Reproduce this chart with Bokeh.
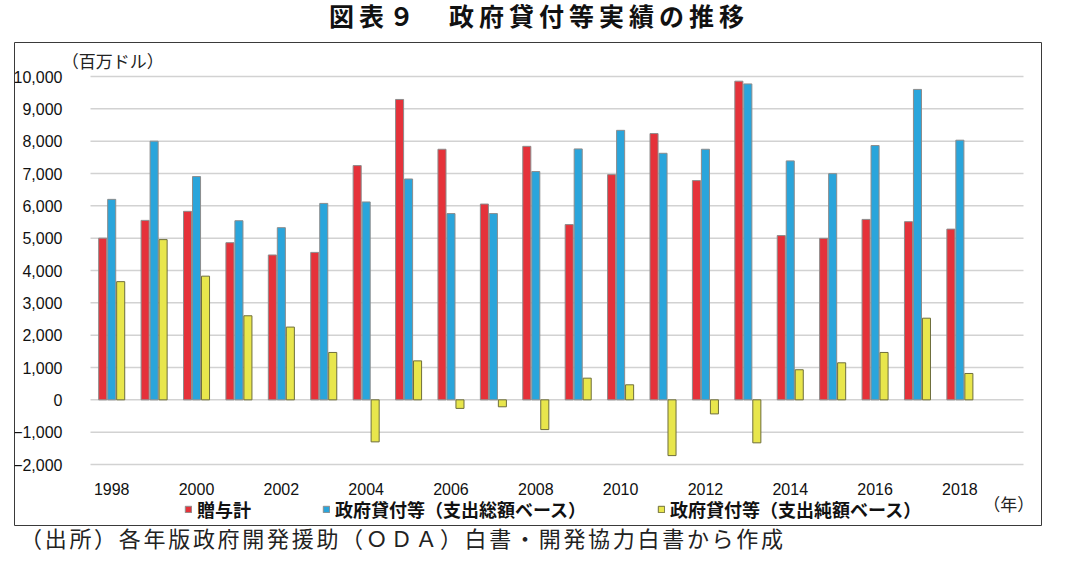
from bokeh.plotting import figure
from bokeh.models import (ColumnDataSource, Range1d, FixedTicker, NumeralTickFormatter,
                          Legend, LegendItem, Label, Div, Spacer)
from bokeh.layouts import column, row
from bokeh.transform import dodge
from bokeh.embed import file_html
from bokeh.resources import INLINE

# ---- data (百万ドル) ----
years = list(range(1998, 2019))
grants = [5000, 5550, 5830, 4860, 4480, 4560, 7245, 9290, 7750, 6055, 7840,
          5420, 6965, 8235, 6780, 9855, 5080, 4995, 5580, 5510, 5280]
loans_gross = [6200, 8000, 6905, 5540, 5325, 6075, 6120, 6830, 5760, 5760, 7060,
               7760, 8335, 7625, 7750, 9770, 7390, 6995, 7865, 9600, 8030]
loans_net = [3655, 4955, 3825, 2600, 2250, 1465, -1300, 1205, -265, -215, -920,
             670, 465, -1725, -435, -1330, 930, 1145, 1465, 2525, 815]
series_names = ["贈与計", "政府貸付等（支出総額ベース）", "政府貸付等（支出純額ベース）"]
tick_years = list(range(1998, 2019, 2))
y_ticks = list(range(-2000, 10001, 1000))

title_text = "図表９　政府貸付等実績の推移"
source_text = "（出所）各年版政府開発援助（ＯＤＡ）白書・開発協力白書から作成"
unit_text = "（百万ドル）"
year_text = "（年）"

colors = ["#E5323A", "#2AA5DB", "#E8E64C"]
JP = "Noto Sans CJK JP"
LAT = "Liberation Sans"

# ---- layout geometry (pixels inside the boxed figure) ----
W, H = 1028, 484
gx0, gx1 = 76, 1009        # horizontal extent of the plotting grid
gy_top, gy_bot = 34, 422   # pixel rows of 10000 and -2000
xs_lo, xs_hi = 1997.5, 2019.5
ppx = (xs_hi - xs_lo) / (gx1 - gx0)
ppy = 12000 / (gy_bot - gy_top)
x_range = Range1d(xs_lo - gx0 * ppx, xs_hi + (W - gx1) * ppx)
y_range = Range1d(-2000 - (H - gy_bot) * ppy, 10000 + gy_top * ppy)

src = ColumnDataSource(dict(year=years, grants=grants, gross=loans_gross, net=loans_net))

p = figure(width=W, height=H, output_backend="svg", toolbar_location=None,
           x_range=x_range, y_range=y_range, min_border=0,
           outline_line_color="#3a3a3a", outline_line_width=1)

# grid lines restricted to the plotting area
p.xgrid.grid_line_color = None
p.ygrid.grid_line_color = None
p.segment(x0=[xs_lo] * len(y_ticks), x1=[xs_hi] * len(y_ticks), y0=y_ticks, y1=y_ticks,
          line_color="#d2d2d2", line_width=1.5)

bw = 0.19
off = 0.212
r1 = p.vbar(x=dodge("year", -off, range=p.x_range), top="grants", width=bw, source=src,
            fill_color=colors[0], line_color="#8c8c8c", line_width=1)
r2 = p.vbar(x=dodge("year", 0, range=p.x_range), top="gross", width=bw, source=src,
            fill_color=colors[1], line_color="#8c8c8c", line_width=1)
r3 = p.vbar(x=dodge("year", off, range=p.x_range), top="net", width=bw, source=src,
            fill_color=colors[2], line_color="#6e6e3c", line_width=1)

p.yaxis.ticker = FixedTicker(ticks=y_ticks)
p.yaxis.formatter = NumeralTickFormatter(format="0,0")
p.yaxis.major_label_overrides = {-1000: "−1,000", -2000: "−2,000"}
p.yaxis.fixed_location = xs_lo
p.xaxis.ticker = FixedTicker(ticks=tick_years)
p.xaxis.fixed_location = -2000
for ax in (p.xaxis[0], p.yaxis[0]):
    ax.axis_line_color = None
    ax.major_tick_line_color = None
    ax.minor_tick_line_color = None
    ax.major_label_text_font = LAT
    ax.major_label_text_font_size = "16px"
    ax.major_label_text_color = "#111111"
p.yaxis.major_label_standoff = 22
p.xaxis.major_label_standoff = 12

legend = Legend(items=[LegendItem(label=series_names[0], renderers=[r1]),
                       LegendItem(label=series_names[1], renderers=[r2]),
                       LegendItem(label=series_names[2], renderers=[r3])],
                orientation="horizontal", location=(170, 4), padding=2, margin=0,
                spacing=71, glyph_width=8, glyph_height=8, label_standoff=5,
                label_text_font=JP, label_text_font_size="18px",
                label_text_font_style="bold", label_text_color="#111111",
                border_line_color=None, background_fill_alpha=0)
p.add_layout(legend, "center")

p.add_layout(Label(x=1996.82, y=10496, text=unit_text, text_font=JP,
                   text_font_size="17px", text_baseline="middle", text_color="#222222"))
p.add_layout(Label(x=2018.55, y=-3207, text=year_text, text_font=JP,
                   text_font_size="17px", text_baseline="middle", text_color="#222222"))

title_div = Div(text=title_text, margin=(0, 0, 0, 0),
                styles={"font-family": JP, "font-size": "25px", "font-weight": "bold",
                        "letter-spacing": "5px", "text-align": "center",
                        "line-height": "28px", "padding-top": "1px", "padding-left": "22px",
                        "box-sizing": "border-box",
                        "color": "#111111", "width": "1056px"})
cap_div = Div(text=source_text, margin=(0, 0, 0, 20),
              styles={"font-family": JP, "font-size": "22px", "letter-spacing": "2.7px",
                      "line-height": "22px", "color": "#222222"})

layout = column(title_div, Spacer(height=13), row(Spacer(width=14), p, spacing=0),
                cap_div, spacing=0)
open("out.html", "w").write(file_html(layout, INLINE))
